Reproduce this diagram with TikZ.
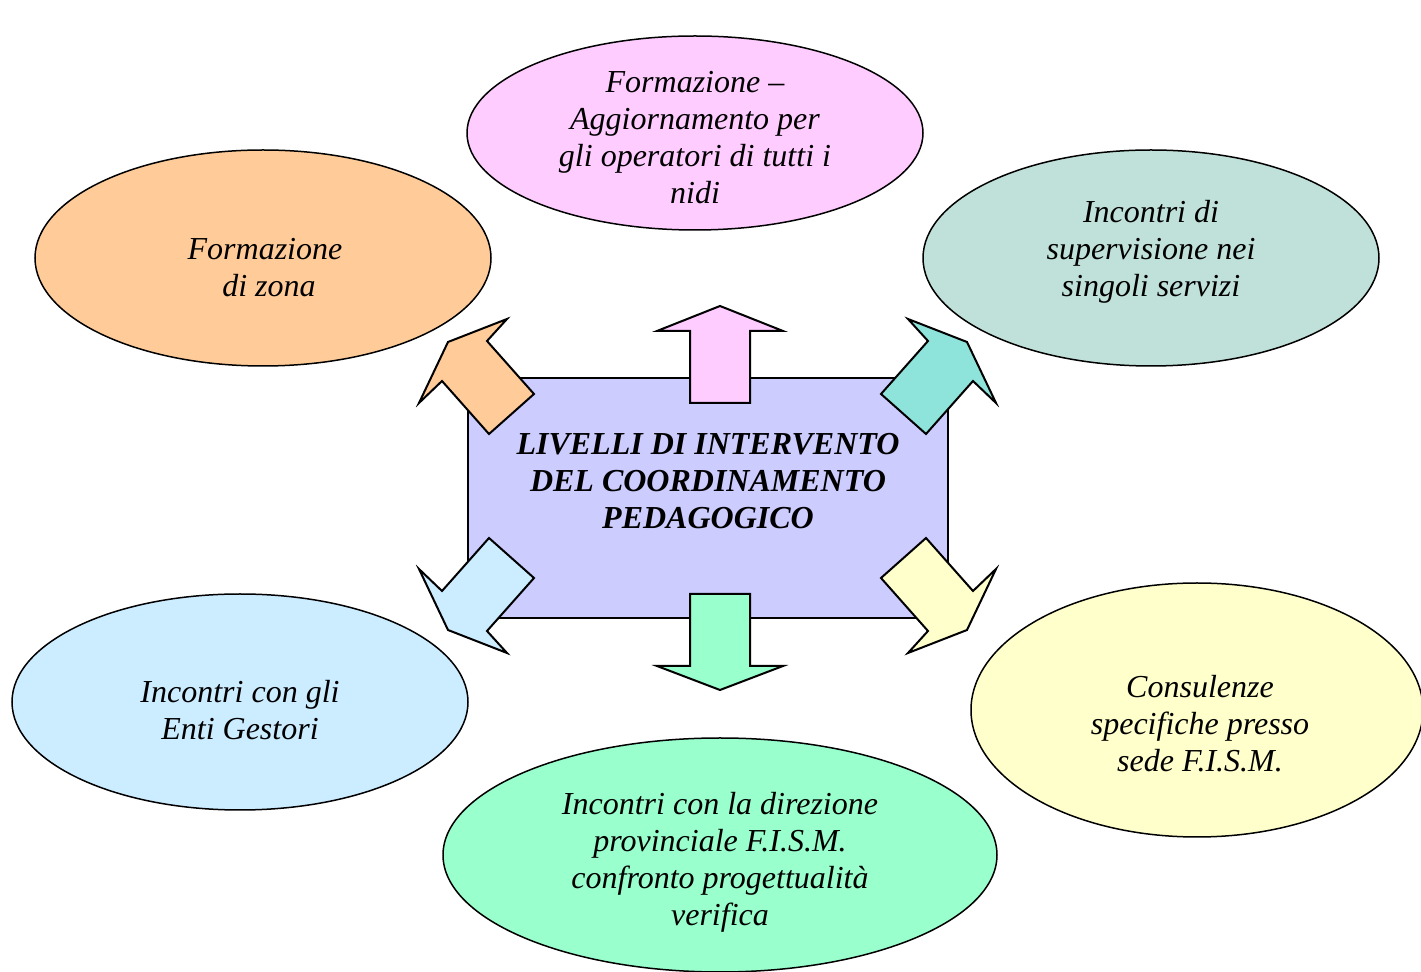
\documentclass[tikz,border=0pt]{standalone}
\usepackage{fontspec}
\setmainfont{Liberation Serif}
\usetikzlibrary{shapes.geometric}

\definecolor{arancio}{HTML}{FFCC99}
\definecolor{rosa}{HTML}{FFCCFF}
\definecolor{salvia}{HTML}{C0E1D9}
\definecolor{turchese}{HTML}{8EE3DA}
\definecolor{celeste}{HTML}{CCECFF}
\definecolor{menta}{HTML}{99FFCC}
\definecolor{crema}{HTML}{FFFFCC}
\definecolor{lavanda}{HTML}{CCCCFF}

\tikzset{
    bolla/.style={ellipse, draw, line width=0.75pt, inner sep=0pt},
    testo/.style={align=center, inner sep=0pt, font=\itshape\fontsize{16}{18.5}\selectfont},
    freccia/.style={draw, line width=1pt, line join=miter},
}

\begin{document}
\begin{tikzpicture}[x=0.5pt, y=-0.5pt]
    \useasboundingbox (0,0) rectangle (1421,972);

    % ellissi
    \node[bolla, fill=arancio, minimum width=228pt, minimum height=108pt] (zona) at (263,258) {};
    \node[bolla, fill=rosa, minimum width=228pt, minimum height=97pt] (aggiornamento) at (695,133) {};
    \node[bolla, fill=salvia, minimum width=228pt, minimum height=108pt] (supervisione) at (1151,258) {};
    \node[bolla, fill=celeste, minimum width=228pt, minimum height=108pt] (enti) at (240,702) {};
    \node[bolla, fill=menta, minimum width=277pt, minimum height=117pt] (direzione) at (720,855) {};
    \node[bolla, fill=crema, minimum width=226pt, minimum height=127pt] (consulenze) at (1197,710) {};

    \node[testo] (zona-t) at ([xshift=1pt, yshift=-5pt]zona.center) {Formazione\\\hspace*{4pt}di zona};
    \node[testo] (aggiornamento-t) at ([yshift=-2.5pt]aggiornamento.center) {Formazione --\\Aggiornamento per\\gli operatori di tutti i\\nidi};
    \node[testo] (supervisione-t) at ([yshift=3pt]supervisione.center) {Incontri di\\supervisione nei\\singoli servizi};
    \node[testo] (enti-t) at ([yshift=-4pt]enti.center) {Incontri con gli\\Enti Gestori};
    \node[testo] (direzione-t) at ([yshift=-3.5pt]direzione.center) {Incontri con la direzione\\provinciale F.I.S.M.\\confronto progettualità\\verifica};
    \node[testo] (consulenze-t) at ([xshift=1.5pt, yshift=-7pt]consulenze.center) {Consulenze\\specifiche presso\\sede F.I.S.M.};

    % riquadro centrale
    \node[draw, fill=lavanda, line width=1pt, minimum width=240pt, minimum height=120pt] (livelli) at (708,498) {};
    \node[testo, font=\bfseries\itshape\fontsize{16}{18.5}\selectfont] (titolo) at ([yshift=8.5pt]livelli.center) {LIVELLI DI INTERVENTO\\DEL COORDINAMENTO\\PEDAGOGICO};

    % frecce
    \draw[freccia, fill=rosa] (720,306) -- (783,331) -- (750,331) -- (750,403) -- (690,403) -- (690,331) -- (657,331) -- cycle;
    \draw[freccia, fill=menta] (720,690) -- (783,666) -- (750,666) -- (750,594) -- (690,594) -- (690,666) -- (657,666) -- cycle;
    \draw[freccia, fill=arancio] (448,342) -- (507,319) -- (487,341) -- (534,394) -- (489,434) -- (442,381) -- (419,403) -- cycle;
    \draw[freccia, fill=turchese] (967,342) -- (908,319) -- (928,341) -- (881,394) -- (926,434) -- (973,381) -- (996,403) -- cycle;
    \draw[freccia, fill=celeste] (448,630) -- (507,653) -- (487,631) -- (534,578) -- (489,538) -- (442,591) -- (419,569) -- cycle;
    \draw[freccia, fill=crema] (967,630) -- (908,653) -- (928,631) -- (881,578) -- (926,538) -- (973,591) -- (996,569) -- cycle;
\end{tikzpicture}
\end{document}
